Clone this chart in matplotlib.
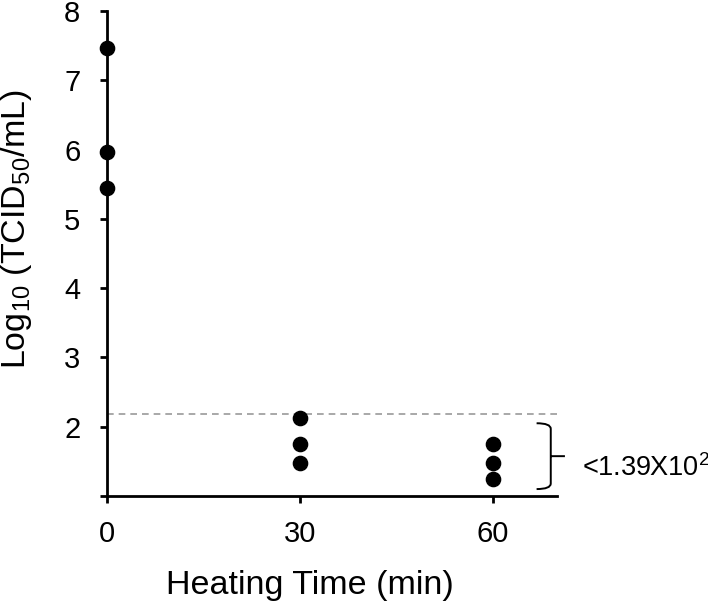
import matplotlib
matplotlib.use("Agg")
import matplotlib.pyplot as plt
from matplotlib.path import Path
from matplotlib.patches import PathPatch

plt.rcParams['font.family'] = ['Liberation Sans', 'DejaVu Sans']
plt.rcParams['mathtext.fontset'] = 'custom'
plt.rcParams['mathtext.rm'] = 'Liberation Sans'
plt.rcParams['mathtext.it'] = 'Liberation Sans'

# data
times = [0, 0, 0, 30, 30, 30, 60, 60, 60]
titers = [7.47, 5.97, 5.45, 2.13, 1.75, 1.47, 1.75, 1.47, 1.25]
limit = 2.18
x_ticks = [0, 30, 60]
y_ticks = [1, 2, 3, 4, 5, 6, 7, 8]
y_tick_labels = ['', '2', '3', '4', '5', '6', '7', '8']
limit_text = '<1.39X10$^{2}$'

fig = plt.figure(figsize=(7.08, 6.04), dpi=100)
ax = fig.add_axes([0.1507, 0.1788, 0.6363, 0.803])

ax.axhline(limit, color='#999999', lw=1.2, ls=(0, (4, 3)), zorder=1)
ax.scatter(times, titers, s=105, color='black', zorder=3, clip_on=False)

ax.set_xlim(0, 70)
ax.set_ylim(1, 8)
ax.set_xticks(x_ticks)
ax.set_yticks(y_ticks)
ax.set_yticklabels(y_tick_labels)

for s in ['top', 'right']:
    ax.spines[s].set_visible(False)
for s in ['left', 'bottom']:
    ax.spines[s].set_linewidth(2.0)
ax.tick_params(axis='both', length=5, width=2.0, labelsize=21)
ax.tick_params(axis='y', pad=14)
ax.tick_params(axis='x', pad=12)

ax.set_xlabel('Heating Time (min)', fontsize=24.5, labelpad=16)
ax.set_ylabel('Log$_{10}$ (TCID$_{50}$/mL)', fontsize=24.5, labelpad=22)
ax.xaxis.label.set_x(0.45)
ax.yaxis.label.set_y(0.55)

# brace grouping the values under the detection limit
x0, x1, x2 = 66.8, 69.0, 71.2
ytop, ybot = 2.05, 1.10
ymid = (ytop + ybot) / 2
r = 0.08
verts = [(x0, ytop), (x1, ytop), (x1, ytop - r),
         (x1, ybot + r), (x1, ybot), (x0, ybot),
         (x1, ymid), (x2, ymid)]
codes = [Path.MOVETO, Path.CURVE3, Path.CURVE3,
         Path.LINETO, Path.CURVE3, Path.CURVE3,
         Path.MOVETO, Path.LINETO]
brace = PathPatch(Path(verts, codes), fill=False, lw=1.4, ec='black', clip_on=False)
ax.add_patch(brace)
ax.text(73.8, 1.29, limit_text, fontsize=19.5, va='baseline', ha='left', clip_on=False)

fig.savefig('out.png', dpi=100)
